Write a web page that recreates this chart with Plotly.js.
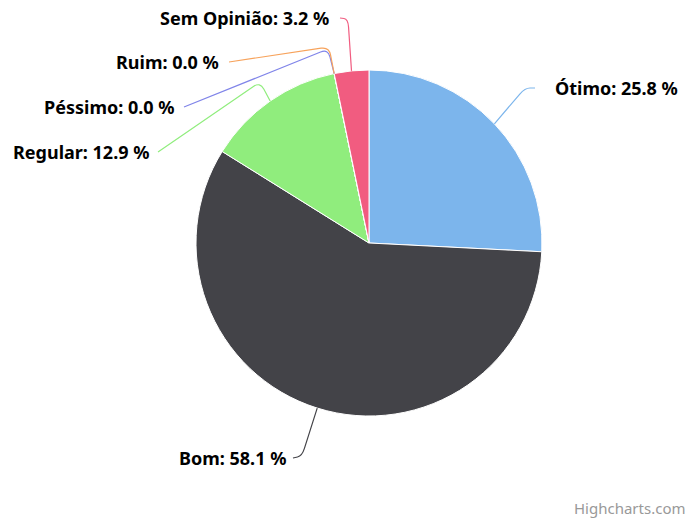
<!DOCTYPE html>
<html>
<head>
<meta charset="utf-8">
<script src="https://cdn.plot.ly/plotly-3.0.1.min.js"></script>
<style>html,body{margin:0;padding:0;background:#fff;}#chart{width:688px;height:520px;}</style>
</head>
<body>
<div id="chart"></div>
<script>
// ---- data ----
const categories = ["Ótimo", "Bom", "Regular", "Péssimo", "Ruim", "Sem Opinião"];
const counts = [8, 18, 4, 0, 0, 1];
const percentLabels = ["25.8", "58.1", "12.9", "0.0", "0.0", "3.2"];

// ---- styles / layout ----
const colors = ["#7cb5ec", "#434348", "#90ed7d", "#8085e9", "#f7a35c", "#f15c80"];
const W = 688, H = 520;
const CX = 369, CY = 243, R = 173;
// label placement (pixels): connector end T, bend B, text x, side
const labelLayout = [
  {tx: 535, ty: 88, bx: 525, by: 88, textX: 553, side: "right"},
  {tx: 293, ty: 458, bx: 302, by: 456, textX: 288, side: "left"},
  {tx: 158, ty: 152, bx: 260, by: 82, textX: 151, side: "left"},
  {tx: 184, ty: 107, bx: 328, by: 49, textX: 176, side: "left"},
  {tx: 229, ty: 62, bx: 329, by: 47, textX: 221, side: "left"},
  {tx: 340, ty: 18, bx: 348, by: 19, textX: 331, side: "left"}
];

const px = x => x / W;
const py = y => 1 - y / H;

const total = counts.reduce((a, b) => a + b, 0);
let cum = 0;
const shapes = [];
const annotations = [];
categories.forEach((c, i) => {
  const theta = 2 * Math.PI * (cum + counts[i] / 2) / total;
  cum += counts[i];
  const ex = CX + R * Math.sin(theta), ey = CY - R * Math.cos(theta);
  const L = labelLayout[i];
  const toward = (ax, ay, bx, by, d) => {
    const dx = bx - ax, dy = by - ay, len = Math.hypot(dx, dy) || 1;
    const k = Math.min(d, len / 2) / len;
    return [ax + dx * k, ay + dy * k];
  };
  const p1 = toward(L.bx, L.by, L.tx, L.ty, 8);
  const p2 = toward(L.bx, L.by, ex, ey, 8);
  const path = `M ${px(L.tx)},${py(L.ty)} L ${px(p1[0])},${py(p1[1])} Q ${px(L.bx)},${py(L.by)} ${px(p2[0])},${py(p2[1])} L ${px(ex)},${py(ey)}`;
  shapes.push({type: "path", xref: "paper", yref: "paper", path: path,
    line: {color: colors[i], width: 1.2}});
  annotations.push({xref: "paper", yref: "paper", x: px(L.textX), y: py(L.ty),
    xanchor: L.side === "right" ? "left" : "right", yanchor: "middle",
    showarrow: false, text: `<b>${c}: ${percentLabels[i]} %</b>`,
    font: {family: "Noto Sans, sans-serif", size: 18, color: "#000000"}});
});
annotations.push({xref: "paper", yref: "paper", x: 1, y: 0, xanchor: "right", yanchor: "bottom",
  xshift: -1, yshift: 0, showarrow: false, text: "Highcharts.com",
  font: {family: "Noto Sans, sans-serif", size: 15, color: "#999999"}});

const trace = {
  type: "pie",
  labels: categories,
  values: counts,
  sort: false,
  direction: "clockwise",
  rotation: 0,
  marker: {colors: colors, line: {color: "#ffffff", width: 1}},
  textinfo: "none",
  hoverinfo: "skip",
  domain: {x: [(CX - R) / W, (CX + R) / W], y: [1 - (CY + R) / H, 1 - (CY - R) / H]}
};

const layout = {
  width: W, height: H,
  margin: {l: 0, r: 0, t: 0, b: 0},
  paper_bgcolor: "#ffffff",
  showlegend: false,
  shapes: shapes,
  annotations: annotations
};

Plotly.newPlot("chart", [trace], layout, {displayModeBar: false, staticPlot: true});
</script>
</body>
</html>
